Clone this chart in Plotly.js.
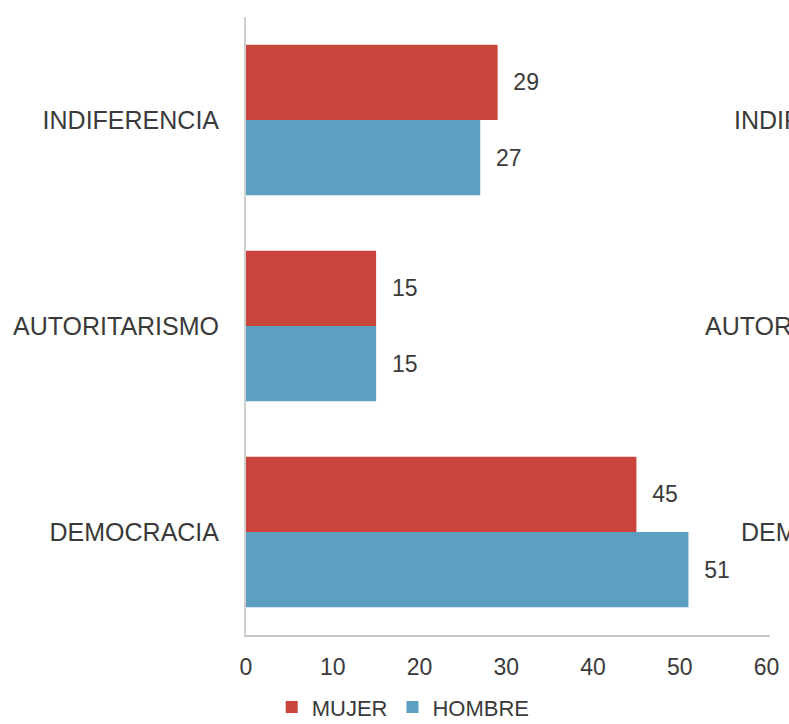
<!DOCTYPE html>
<html>
<head>
<meta charset="utf-8">
<script src="https://cdn.plot.ly/plotly-3.0.1.min.js"></script>
<style>
html,body{margin:0;padding:0;overflow:hidden;background:#fff;}
#chart{width:789px;height:724px;}
</style>
</head>
<body>
<div id="chart"></div>
<script>
// Categories (bottom to top, as Plotly draws a categorical y axis)
var categories = ['DEMOCRACIA', 'AUTORITARISMO', 'INDIFERENCIA'];
var mujer = [45, 15, 29];
var hombre = [51, 15, 27];
var xTickVals = [0, 10, 20, 30, 40, 50, 60];
var cutLabels = ['INDIFERENCIA', 'AUTORITARISMO', 'DEMOCRACIA'];

var RED = '#C9453B';
var BLUE = '#5D9FC1';
var TXT = '#3a3a3a';
var FONT = 'Liberation Sans, Arial, sans-serif';

var traces = [
  {
    type: 'bar', orientation: 'h', name: 'HOMBRE',
    y: categories, x: hombre,
    marker: {color: BLUE},
    text: hombre, texttemplate: '\u00a0\u00a0%{x}', textposition: 'outside',
    textfont: {family: FONT, size: 23, color: TXT},
    cliponaxis: false, hoverinfo: 'x'
  },
  {
    type: 'bar', orientation: 'h', name: 'MUJER',
    y: categories, x: mujer,
    marker: {color: RED},
    text: mujer, texttemplate: '\u00a0\u00a0%{x}', textposition: 'outside',
    textfont: {family: FONT, size: 23, color: TXT},
    cliponaxis: false, hoverinfo: 'x'
  }
];

var annotations = cutLabels.map(function (c) {
  return {
    text: c, xref: 'paper', yref: 'y', x: 1.273, y: c,
    xanchor: 'right', yanchor: 'middle', showarrow: false,
    font: {family: FONT, size: 25, color: TXT}
  };
});

var layout = {
  width: 789, height: 724,
  margin: {l: 246, r: 19, t: 17, b: 89, autoexpand: false},
  paper_bgcolor: '#ffffff', plot_bgcolor: '#ffffff',
  font: {family: FONT, color: TXT},
  barmode: 'group', bargap: 0.27, bargroupgap: 0,
  showlegend: true,
  legend: {
    orientation: 'h', traceorder: 'reversed',
    x: 0.30, xanchor: 'center', y: -0.117, yanchor: 'middle',
    font: {family: FONT, size: 22, color: TXT},
    itemwidth: 30, tracegroupgap: 0
  },
  xaxis: {
    range: [0, 60.4], tickvals: xTickVals, ticks: '',
    showgrid: false, zeroline: false,
    showline: true, linecolor: '#c8c8c8', linewidth: 2,
    tickfont: {family: FONT, size: 23, color: TXT},
    ticklabelstandoff: 10, fixedrange: true, automargin: false
  },
  yaxis: {
    type: 'category', ticks: '', showgrid: false, zeroline: false,
    showline: true, linecolor: '#d0d0d0', linewidth: 2,
    tickfont: {family: FONT, size: 25, color: TXT},
    ticklabelstandoff: 20, fixedrange: true, automargin: false
  },
  annotations: annotations
};

Plotly.newPlot('chart', traces, layout, {displayModeBar: false, staticPlot: true});
</script>
</body>
</html>
